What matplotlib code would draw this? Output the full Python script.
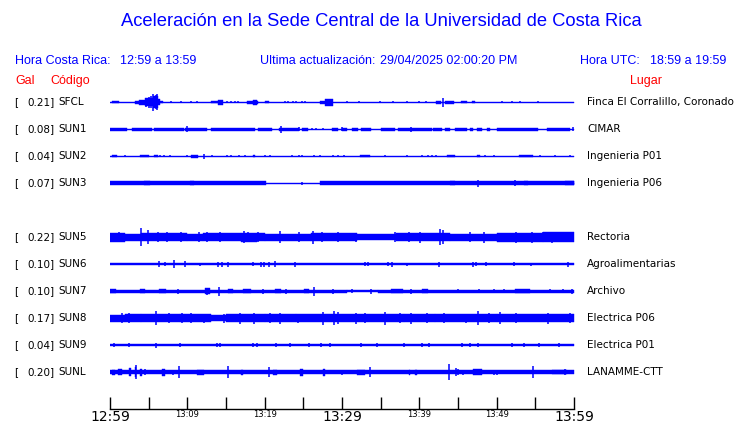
import numpy as np
import matplotlib
matplotlib.use('Agg')
import matplotlib.pyplot as plt

# station info, top to bottom (row 4 is left empty in the original)
codes = ['SFCL', 'SUN1', 'SUN2', 'SUN3', 'SUN5', 'SUN6', 'SUN7', 'SUN8', 'SUN9', 'SUNL']
gal = [0.21, 0.08, 0.04, 0.07, 0.22, 0.10, 0.10, 0.17, 0.04, 0.20]
places = ['Finca El Corralillo, Coronado', 'CIMAR', 'Ingenieria P01', 'Ingenieria P06',
          'Rectoria', 'Agroalimentarias', 'Archivo', 'Electrica P06', 'Electrica P01',
          'LANAMME-CTT']
rows = [0, 1, 2, 3, 5, 6, 7, 8, 9, 10]

# envelopes: minutes after 12:59, half amplitude in px
# bands = (t0, t1, half), spikes = (t, half)
SFCL_bands = [(0, 60, 0.5), (0.3, 1.1, 1.2), (3.2, 3.8, 1.5), (3.8, 4.5, 2.5), (4.5, 5.5, 4),
              (5.5, 6.2, 6), (6.2, 6.5, 3), (6.5, 6.8, 1.2), (13.1, 14.0, 1.2), (14.0, 14.6, 2.5),
              (17.7, 19.2, 1.5), (18.5, 19.0, 2.5), (20.0, 20.5, 1.2), (27.2, 27.8, 1.5),
              (27.8, 28.9, 3.5), (42.2, 42.8, 1.5), (43.3, 44.5, 1.5), (45.4, 46.2, 1.2),
              (46.8, 47.2, 1.2)]
SFCL_spikes = [(4.7, 4.5), (5.0, 5.5), (5.3, 6), (5.6, 8.5), (5.9, 7), (6.1, 8), (7.9, 0.8),
               (9.2, 0.8), (10.5, 0.8), (11.3, 1), (15.1, 1), (15.7, 1), (16.2, 1), (16.5, 0.8),
               (22.6, 1), (23.0, 1), (23.7, 1), (24.1, 1), (24.8, 0.8), (25.2, 0.8), (30.6, 1),
               (32.2, 0.7), (34.9, 1.2), (36.6, 1.2), (38.4, 0.8), (39.9, 1), (40.9, 1),
               (43.1, 4.5), (50.7, 0.8), (52.0, 0.8), (53.0, 0.8), (55.3, 0.8)]

SUN1_bands = [(0, 60, 0.5), (0, 2.2, 1.5), (2.8, 5.4, 1.5), (5.7, 9.6, 1.5), (9.7, 12.5, 1.5),
              (13.1, 18.8, 1.5), (19.2, 20.9, 1.5), (21.8, 24.4, 1.5), (24.8, 25.6, 1.5),
              (28.7, 29.5, 1.5), (30.0, 30.6, 1.5), (31.3, 32.1, 1.5), (32.5, 33.8, 1.5),
              (35.1, 36.9, 1.5), (37.3, 41.6, 1.5), (41.8, 42.9, 1.5), (43.3, 44.0, 1.5),
              (44.6, 46.1, 1.5), (46.6, 47.0, 1.5), (47.4, 48.1, 1.5), (48.7, 49.1, 1.5),
              (50.0, 55.4, 1.5), (56.5, 59.5, 1.5)]
SUN1_spikes = [(10.0, 3), (22.1, 3.5), (24.4, 2), (26.1, 1.3), (26.7, 1.3), (27.6, 1.3),
               (30.0, 2), (38.9, 2.5), (59.9, 2)]

SUN2_bands = [(0, 60, 0.5), (0.3, 0.9, 1.3), (3.9, 5.0, 1.3), (5.7, 6.2, 1.3), (10.5, 11.4, 1.5),
              (18.5, 18.8, 1.3), (32.3, 33.6, 1.3), (43.6, 44.6, 1.3), (47.4, 47.8, 1.3),
              (52.9, 54.7, 1.3)]
SUN2_spikes = [(1.9, 1.2), (6.5, 1.2), (7.0, 1.2), (7.8, 1.2), (9.9, 1.2), (12.2, 2.5),
               (13.2, 1.3), (15.1, 1.2), (15.6, 1.3), (16.7, 1.2), (17.4, 1.3), (20.0, 1.2),
               (20.7, 1.2), (23.5, 1.2), (24.4, 1.2), (24.8, 1.2), (26.4, 1.2), (27.2, 1.3),
               (28.8, 1.2), (29.5, 1.2), (30.3, 1.2), (35.6, 1.3), (38.4, 1.2), (40.4, 1.2),
               (41.1, 1.2), (41.6, 1.2), (42.2, 1.2), (48.5, 1.3), (49.6, 1.3), (55.6, 1.2),
               (57.6, 1.2), (59.5, 1.2)]

SUN3_bands = [(0, 60, 0.5), (0, 20.2, 1.7), (27.2, 60, 1.7), (4.4, 5.2, 2.3), (10.3, 10.8, 2.3),
              (44.0, 44.6, 2.3), (53.5, 54.0, 2.3), (58.8, 60, 2.2)]
SUN3_spikes = [(0.3, 2.3), (0.8, 2.3), (1.2, 2.3), (1.6, 2.3), (2.0, 2.3), (3.3, 2.3),
               (3.9, 2.3), (5.8, 2.3), (6.4, 2.3), (7.5, 2.3), (8.6, 2.3), (9.2, 2.3),
               (11.8, 2.3), (12.3, 2.3), (13.0, 2.3), (14.8, 2.3), (15.3, 2.3), (15.8, 2.3),
               (17.3, 2.3), (18.0, 2.3), (18.7, 2.3), (19.2, 2.3), (24.8, 1.5), (27.4, 2.3),
               (28.1, 2.3), (32.5, 2.3), (32.8, 2.3), (33.5, 2.3), (34.7, 2.3), (39.5, 2.3),
               (42.7, 2.3), (47.6, 3.5), (48.5, 2.3), (49.0, 2.3), (51.4, 2.3), (51.8, 2.3),
               (52.4, 3), (53.0, 2.3), (55.0, 2.3), (57.8, 2.3), (58.3, 2.3)]

SUN5_bands = [(0, 2, 4.5), (2, 4, 3.5), (4, 10, 4), (10, 12, 3.5), (12, 17, 4), (17, 19, 4.5),
              (19, 20, 4), (20, 26, 3.5), (26, 32, 4), (32, 37, 2.8), (37, 44, 4),
              (44, 50, 3.5), (50, 56, 4.5), (56, 60, 4.8)]
SUN5_spikes = [(1.2, 5), (4.0, 9), (4.9, 7), (6.2, 5), (7.4, 5), (9.2, 5), (11.5, 5), (12.6, 5),
               (14.2, 5), (17.3, 6), (17.9, 5), (19.2, 5), (22.0, 6), (24.5, 5), (26.3, 6.5),
               (27.4, 5), (29.5, 5), (31.8, 4.5), (36.8, 5), (38.6, 5), (40.1, 5.5), (42.7, 8),
               (43.0, 7), (46.6, 5), (48.3, 5.5), (52.5, 5.5), (54.6, 5.5), (56.0, 5),
               (57.2, 5.5), (59.0, 5)]

SUN6_bands = [(0, 60, 1.4)]
SUN6_spikes = [(6.3, 3), (7.1, 2), (8.3, 4), (9.7, 3), (11.6, 1.5), (14.0, 2.5), (14.5, 2.5),
               (15.3, 2.5), (18.5, 2), (19.5, 2.5), (19.9, 2.5), (20.6, 2.5), (21.3, 3),
               (23.9, 2.5), (33.0, 2), (33.4, 2), (36.0, 2), (36.5, 2.5), (38.4, 1.5),
               (42.6, 2.5), (47.0, 2.5), (47.3, 2), (48.6, 2), (52.3, 2), (54.5, 1.5), (59.2, 2.5)]

SUN7_bands = [(0, 30.6, 1.5), (30.6, 34.7, 1.2), (34.7, 60, 1.5), (0.0, 0.8, 2.3),
              (3.9, 4.5, 2.3), (6.3, 7.3, 2.3), (12.3, 12.9, 3), (15.2, 15.9, 2.3),
              (17.2, 18.2, 2.3), (21.3, 22.1, 2.3), (25.1, 25.7, 2.3), (36.3, 37.9, 2.2),
              (40.3, 41.1, 2.3), (52.4, 54.3, 2.2)]
SUN7_spikes = [(8.8, 2.5), (12.6, 3.5), (14.1, 4.5), (19.8, 2.5), (22.8, 2.5), (26.4, 4.5),
               (28.9, 2.5), (31.3, 2.3), (33.8, 2.5), (38.9, 2.5), (45.0, 2.3), (47.7, 2.3),
               (49.6, 2.3), (50.9, 2.3), (56.9, 2.3), (58.6, 2.3), (59.7, 2.5)]

SUN8_bands = [(0, 2, 3.5), (2, 4, 3.8), (4, 9, 4.2), (9, 13, 3.8), (13, 15, 2.8), (15, 20, 3.8),
              (20, 24, 4.2), (24, 29, 3.8), (29, 33, 4.2), (33, 38, 4), (38, 42, 4.2),
              (42, 50, 3.8), (50, 60, 4.2)]
SUN8_spikes = [(1.5, 5), (2.4, 5), (6.0, 7), (7.6, 5), (9.3, 5), (10.5, 5), (12.2, 4.5),
               (14.8, 4.5), (16.8, 5.5), (18.6, 5.5), (20.7, 5), (22.0, 5.5), (24.3, 4.5),
               (27.6, 6.5), (29.0, 7), (29.5, 6), (31.8, 5.5), (33.0, 5), (35.6, 6.5), (37.5, 5),
               (38.9, 5.5), (41.0, 5), (43.2, 5), (46.0, 4.5), (47.6, 7), (49.0, 5), (50.4, 6),
               (52.5, 5), (56.6, 5.5), (59.5, 5)]

SUN9_bands = [(0, 60, 1.3)]
SUN9_spikes = [(0.5, 1.8), (2.5, 1.8), (5.9, 2.5), (9.0, 1.8), (13.8, 1.8), (14.2, 1.8),
               (18.5, 1.8), (19.0, 1.8), (21.5, 1.8), (23.3, 1.8), (25.7, 1.8), (27.3, 1.8),
               (28.5, 1.8), (32.5, 2.2), (34.5, 1.8), (38.0, 1.8), (40.4, 1.8), (41.3, 1.8),
               (45.5, 1.8), (46.5, 1.8), (47.6, 2.2), (52.0, 1.8), (53.5, 1.8), (55.5, 1.8),
               (58.0, 1.8)]

SUNL_bands = [(0, 60, 1.6), (0.2, 0.6, 2.5), (1.0, 1.5, 3), (2.5, 2.7, 4), (3.2, 3.4, 5),
              (3.9, 4.1, 3.5), (6.7, 7.1, 3.5), (11.2, 12.2, 2.5), (17.0, 17.2, 2.5),
              (21.1, 21.6, 2.5), (24.6, 25.0, 3.5), (27.6, 27.8, 3.5), (31.9, 33.0, 2.5),
              (38.6, 38.8, 2.5), (39.4, 39.7, 2.5), (47.0, 48.1, 3), (57.2, 59.1, 2)]
SUNL_spikes = [(3.3, 7), (4.5, 3), (8.2, 2.5), (8.9, 6), (13.1, 2), (15.2, 6), (18.7, 2),
               (20.6, 5), (22.2, 2), (28.7, 2), (30.0, 2.5), (33.6, 5), (37.2, 1.8), (40.7, 2),
               (41.7, 2), (42.8, 2), (43.8, 8), (44.8, 4), (45.0, 3), (45.6, 2.5), (49.7, 2.5),
               (50.0, 2.5), (54.7, 6), (58.8, 3)]

all_bands = [SFCL_bands, SUN1_bands, SUN2_bands, SUN3_bands, SUN5_bands,
             SUN6_bands, SUN7_bands, SUN8_bands, SUN9_bands, SUNL_bands]
all_spikes = [SFCL_spikes, SUN1_spikes, SUN2_spikes, SUN3_spikes, SUN5_spikes,
              SUN6_spikes, SUN7_spikes, SUN8_spikes, SUN9_spikes, SUNL_spikes]

tick_min = np.arange(0, 61, 5)
tick_lab = {0: '12:59', 10: '13:09', 20: '13:19', 30: '13:29', 40: '13:39', 50: '13:49', 60: '13:59'}
big_labels = [0, 30, 60]

W, H = 740, 423
ROW = 27.0  # px between traces
BLUE = '#0000ff'
RED = '#ff0000'

fig = plt.figure(figsize=(W / 100, H / 100), dpi=100)


def px(x, y):
    return x / W, 1 - y / H


# traces axes: x in minutes, y in row units
left, right, top, bottom = 110, 574, 88, 409
ax = fig.add_axes([left / W, 1 - bottom / H, (right - left) / W, (bottom - top) / H])
ax.set_xlim(0, 60)
ax.set_ylim((bottom - 102) / ROW, (top - 102) / ROW)

for r, bands, spikes in zip(rows, all_bands, all_spikes):
    for t0, t1, a in bands:
        h = a / ROW
        ax.fill_between([t0, t1], r - h, r + h, color=BLUE, lw=0.3)
    if spikes:
        t = np.array([s[0] for s in spikes])
        a = np.array([s[1] for s in spikes]) / ROW
        ax.vlines(t, r - a, r + a, color=BLUE, lw=1.1)

for s in ['left', 'right', 'top']:
    ax.spines[s].set_visible(False)
ax.spines['bottom'].set_linewidth(1.0)
ax.set_yticks([])
ax.set_xticks(tick_min)
ax.set_xticklabels([tick_lab.get(int(m), '') for m in tick_min])
ax.tick_params(axis='x', direction='in', length=9, width=1.0, pad=0.5, color='black')
for m, lab in zip(tick_min, ax.get_xticklabels()):
    lab.set_fontsize(10 if int(m) in big_labels else 6)
ax.patch.set_visible(False)

# header
fig.text(*px(381, 22), 'Aceleración en la Sede Central de la Universidad de Costa Rica',
         ha='center', va='center', color=BLUE, fontsize=13.2, family='Liberation Sans')
hdr = dict(va='center', color=BLUE, fontsize=9, family='Liberation Sans')
fig.text(*px(15, 61), 'Hora Costa Rica:', **hdr)
fig.text(*px(120, 61), '12:59 a 13:59', **hdr)
fig.text(*px(260, 61), 'Ultima actualización:', **hdr)
fig.text(*px(380, 61), '29/04/2025 02:00:20 PM', **hdr)
fig.text(*px(580, 61), 'Hora UTC:', **hdr)
fig.text(*px(650, 61), '18:59 a 19:59', **hdr)
red = dict(va='center', color=RED, fontsize=9, family='Liberation Sans')
fig.text(*px(15, 81), 'Gal', **red)
fig.text(*px(50, 81), 'Código', **red)
fig.text(*px(630, 81), 'Lugar', **red)

# row labels
for r, c, g, p in zip(rows, codes, gal, places):
    y = 102 + r * ROW
    fig.text(*px(14, y), '[', va='center', fontsize=7.5)
    fig.text(*px(55, y), f'{g:.2f}]', va='center', ha='right', fontsize=7.5)
    fig.text(*px(58, y), c, va='center', fontsize=7.5)
    fig.text(*px(587, y), p, va='center', fontsize=7.5)

fig.savefig('out.png', dpi=100)
